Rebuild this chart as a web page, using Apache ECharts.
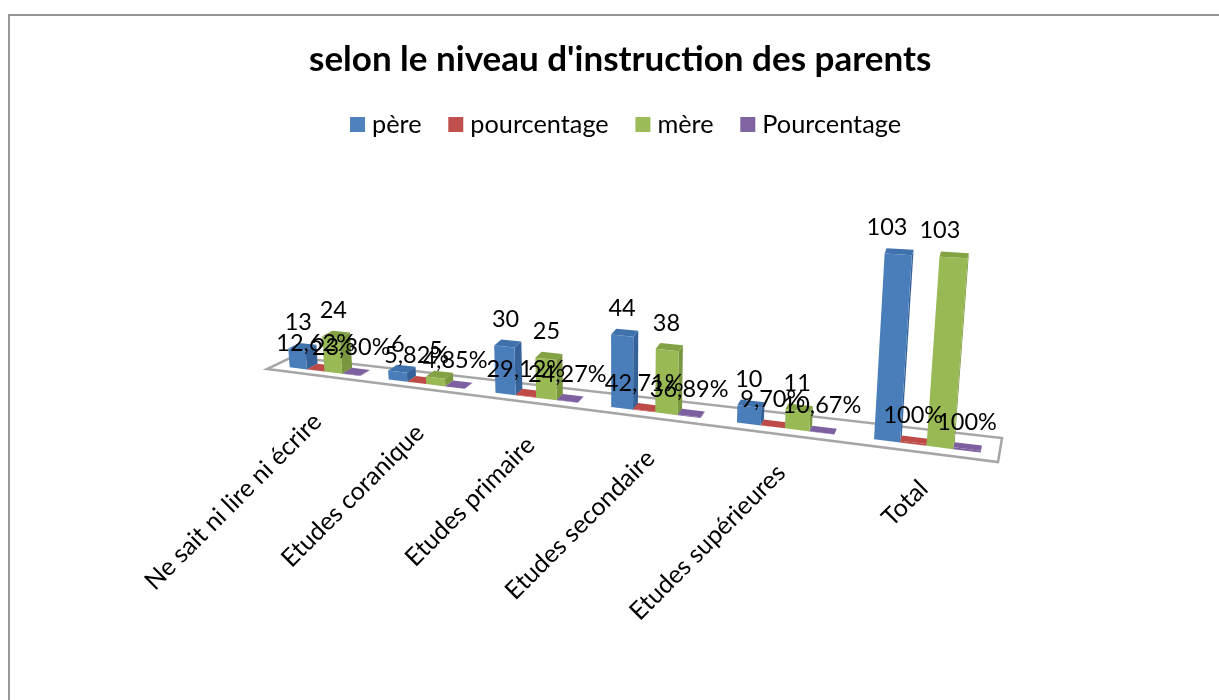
<!DOCTYPE html>
<html>
<head>
<meta charset="utf-8">
<script src="https://cdn.jsdelivr.net/npm/echarts@6/dist/echarts.min.js"></script>
<style>
    html, body { margin: 0; padding: 0; background: #fff; }
    #main { width: 1219px; height: 700px; }
</style>
</head>
<body>
<div id="main"></div>
<script>
var categories = ['Ne sait ni lire ni écrire', 'Etudes coranique', 'Etudes primaire', 'Etudes secondaire', 'Etudes supérieures', 'Total'];
var pere = [13, 6, 30, 44, 10, 103];
var pourcentagePere = [12.62, 5.82, 29.12, 42.71, 9.70, 100];
var mere = [24, 5, 25, 38, 11, 103];
var pourcentageMere = [23.30, 4.85, 24.27, 36.89, 10.67, 100];

var FONT = 'Lato';

// flat grid that the axes scale into, then bent into the tilted floor by proj()
var GRID = { left: 100, top: 100, width: 600, height: 240 };
var FRONT = [[267, 369], [998, 462]];
var BACK = [[292, 357], [1002, 438]];
var PERSP = 0.78;

function lerp(a, b, t) { return a + (b - a) * t; }

function floorT(px) {
    var t = (px - GRID.left) / GRID.width;
    return PERSP * t / (1 + (PERSP - 1) * t);
}

// px, py: pixel from api.coord, d: depth on the floor (0 front, 1 back)
function proj(px, py, d) {
    var g = floorT(px);
    var fx = lerp(FRONT[0][0], FRONT[1][0], g), fy = lerp(FRONT[0][1], FRONT[1][1], g);
    var bx = lerp(BACK[0][0], BACK[1][0], g), by = lerp(BACK[0][1], BACK[1][1], g);
    var x = lerp(fx, bx, d), y = lerp(fy, by, d);
    var h = (GRID.top + GRID.height - py) * lerp(0.72, 0.94, g);
    return [x + (x - 620) * 0.000224 * h, y - h];
}

var SLOT_START = 0.16, SLOT = 0.18, D0 = 0.3;

function barItem(slot, colors, fmt) {
    return function (params, api) {
        var i = api.value(0), v = api.value(1);
        var band = api.size([1, 0])[0];
        var x0 = api.coord([i, 0])[0] - band / 2 + band * (SLOT_START + SLOT * slot);
        var x1 = x0 + band * SLOT;
        var base = api.coord([i, 0])[1], top = api.coord([i, v])[1];
        // bars look shallower towards the right end of the floor
        var D1 = D0 + lerp(0.45, 0.2, floorT(x0));
        var poly = function (pts, fill) {
            return {
                type: 'polygon',
                shape: { points: pts.map(function (p) { return proj(p[0], p[1], p[2]); }) },
                style: { fill: fill }
            };
        };
        var mid = (x0 + x1) / 2;
        return {
            type: 'group',
            children: [
                poly([[x1, base, D0], [x1, base, D1], [x1, top, D1], [x1, top, D0]], colors[1]),
                poly([[x0, top, D0], [x1, top, D0], [x1, top, D1], [x0, top, D1]], colors[2]),
                poly([[x0, base, D0], [x1, base, D0], [x1, top, D0], [x0, top, D0]], colors[0]),
                {
                    type: 'text',
                    z2: 100,
                    x: proj(mid, base, D0)[0],
                    y: proj(mid, top, D0)[1] - 27,
                    style: {
                        text: fmt(api.value(2)),
                        font: '23.5px ' + FONT,
                        fill: '#000',
                        align: 'center',
                        verticalAlign: 'middle'
                    }
                }
            ]
        };
    };
}

function countLabel(n) { return String(n); }
function percentLabel(n) {
    return n === 100 ? '100%' : n.toFixed(2).replace('.', ',') + '%';
}

function countData(arr) {
    return arr.map(function (n, i) { return [i, n, n]; });
}
function percentData(arr) {
    return arr.map(function (n, i) { return [i, n / 100, n]; });
}

function floorItem(params, api) {
    var b = api.coord([0, 0])[1];
    var l = GRID.left, r = GRID.left + GRID.width;
    return {
        type: 'polygon',
        shape: { points: [proj(l, b, 0), proj(r, b, 0), proj(r, b, 1), proj(l, b, 1)] },
        style: { fill: '#fff', stroke: '#a6a6a6', lineWidth: 2.5 }
    };
}

function categoryItem(params, api) {
    var c = api.coord([api.value(0), 0]);
    var p = proj(c[0], c[1], 0);
    return {
        type: 'text',
        x: p[0] + 2,
        y: p[1] + 43 - 12 * floorT(c[0]),
        rotation: Math.PI / 4,
        style: {
            text: categories[api.value(0)],
            font: '25px ' + FONT,
            fill: '#000',
            align: 'right',
            verticalAlign: 'middle'
        }
    };
}

var chart = echarts.init(document.getElementById('main'));

chart.setOption({
    animation: false,
    backgroundColor: '#fff',
    color: ['#4F81BD', '#C0504D', '#9BBB59', '#8064A2'],
    title: {
        text: "selon le niveau d'instruction des parents",
        left: 304,
        top: 37,
        textStyle: { fontFamily: FONT, fontWeight: 'bold', fontSize: 35, color: '#000' }
    },
    legend: {
        data: ['père', 'pourcentage', 'mère', 'Pourcentage'],
        left: 345,
        top: 107,
        icon: 'rect',
        itemWidth: 15,
        itemHeight: 15,
        itemGap: 26.7,
        textStyle: { fontFamily: FONT, fontSize: 25.3, color: '#000', padding: [0, 0, 0, 2] }
    },
    grid: GRID,
    xAxis: { type: 'category', data: categories, show: false },
    yAxis: { type: 'value', min: 0, max: 120, show: false },
    graphic: [{
        type: 'rect',
        silent: true,
        shape: { x: 9, y: 15, width: 1400, height: 900 },
        style: { fill: 'none', stroke: '#969696', lineWidth: 2 }
    }],
    series: [
        { type: 'custom', name: 'floor', clip: false, data: [[0, 0]], renderItem: floorItem, z: 1 },
        { type: 'custom', name: 'categories', clip: false, data: categories.map(function (c, i) { return [i, 0]; }), renderItem: categoryItem, z: 1 },
        { type: 'custom', name: 'père', clip: false, z: 2, itemStyle: { color: '#4F81BD' }, data: countData(pere),
            renderItem: barItem(0, ['#4A7EBB', '#356298', '#3F72AC'], countLabel) },
        { type: 'custom', name: 'pourcentage', clip: false, z: 2, itemStyle: { color: '#C0504D' }, data: percentData(pourcentagePere),
            renderItem: barItem(1, ['#BE4B48', '#983A38', '#BE4B48'], percentLabel) },
        { type: 'custom', name: 'mère', clip: false, z: 2, itemStyle: { color: '#9BBB59' }, data: countData(mere),
            renderItem: barItem(2, ['#98B954', '#7A963F', '#83A243'], countLabel) },
        { type: 'custom', name: 'Pourcentage', clip: false, z: 2, itemStyle: { color: '#8064A2' }, data: percentData(pourcentageMere),
            renderItem: barItem(3, ['#7D60A0', '#624A80', '#7D60A0'], percentLabel) }
    ]
});
</script>
</body>
</html>
